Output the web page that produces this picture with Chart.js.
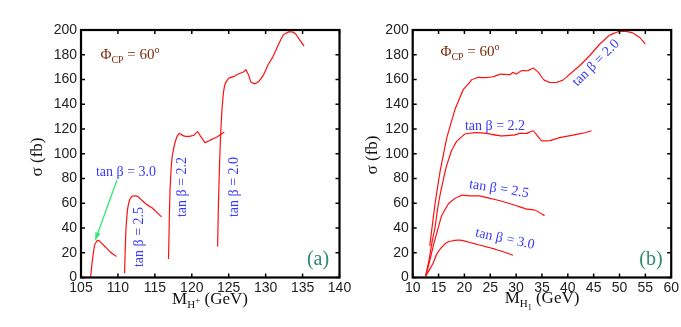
<!DOCTYPE html>
<html>
<head>
<meta charset="utf-8">
<script src="https://cdn.jsdelivr.net/npm/chart.js@4.4.0/dist/chart.umd.min.js"></script>
<style>
  body { margin: 0; background: #fff; }
  #wrap { position: relative; width: 681px; height: 327px; }
  canvas { position: absolute; left: 0; top: 0; }
</style>
</head>
<body>
<div id="wrap">
  <canvas id="chartA" width="681" height="327"></canvas>
  <canvas id="chartB" width="681" height="327"></canvas>
</div>
<script>
// panel (a): sigma vs M_H+ for several tan beta
const aTan30X = [106.3, 106.5, 106.7, 106.9, 107.2, 107.5, 107.9, 108.5, 109.1, 109.8];
const aTan30Y = [0, 12, 21, 27, 30, 29.5, 27, 23.5, 20, 17];
const aTan25X = [110.9, 111.0, 111.1, 111.3, 111.6, 111.9, 112.3, 112.7, 113.3, 114.0, 114.7, 115.2, 115.9];
const aTan25Y = [3.5, 25, 41, 55, 63, 65.5, 66, 65.5, 62, 58.5, 56, 53, 49];
const aTan22X = [116.85, 116.95, 117.05, 117.2, 117.35, 117.6, 118.0, 118.3, 118.9, 119.6, 120.3, 120.8, 121.2, 121.8, 122.5, 123.4, 124.4];
const aTan22Y = [15, 45, 70, 88, 98, 106, 114, 116.5, 114.5, 114, 115, 118, 114, 109, 111, 113.5, 117.5];
const aTan20X = [123.5, 123.6, 123.75, 123.9, 124.1, 124.3, 124.55, 125.0, 125.7, 126.3, 127.0, 127.3, 127.7, 128.0, 128.5, 129.0, 129.7, 130.3, 131.0, 131.8, 132.4, 133.1, 133.6, 134.1, 134.5, 135.2];
const aTan20Y = [25, 57, 90, 115, 137, 150, 157, 161, 162.5, 164.5, 166, 168, 163.5, 158, 156.5, 158, 163.5, 171.5, 178.5, 189, 196, 198.5, 198.5, 196.5, 193, 187];

// panel (b): sigma vs M_H1
const bTan30X = [12.5, 13.2, 14.0, 14.6, 15.5, 16.6, 17.5, 18.8, 19.5, 21.1, 22.7, 24.3, 25.6, 26.9, 28.1, 29.4];
const bTan30Y = [1, 6, 12, 18.5, 24, 28.3, 29.5, 30.2, 30, 28.3, 26.5, 24.8, 23.3, 21.6, 20, 18];
const bTan25X = [12.5, 13.3, 14.0, 14.6, 15.6, 16.9, 18.2, 19.5, 21.0, 23.0, 24.9, 26.9, 28.5, 30.1, 32.0, 33.6, 35.5];
const bTan25Y = [1, 13.5, 26, 35, 50, 59.5, 64, 66.5, 66, 66, 64, 62, 60, 58, 55.3, 54.5, 50];
const bTan22X = [12.5, 13.2, 13.8, 14.3, 14.8, 15.3, 16.4, 17.5, 18.5, 20.1, 22.0, 24.3, 26.9, 29.4, 30.7, 32.0, 33.3, 34.9, 36.5, 38.4, 41.0, 43.3, 44.6];
const bTan22Y = [1, 15, 30, 40, 55, 67, 88, 102.4, 110, 116, 117, 116.4, 114.5, 115, 116.4, 116.4, 118.6, 110.5, 110.5, 113, 115, 117, 118.6];
const bTan20X = [13.3, 14.3, 15.3, 16.6, 18.2, 19.8, 20.7, 21.4, 22.7, 24.0, 25.6, 26.9, 28.8, 29.4, 30.1, 31.0, 32.3, 33.3, 34.3, 35.4, 36.5, 37.8, 39.1, 40.4, 42.3, 44.2, 46.2, 48.1, 49.7, 51.3, 52.6, 53.9, 55.0];
const bTan20Y = [25.6, 59, 86, 113, 136, 152, 156, 159.8, 161.7, 161.5, 162.2, 164.4, 163.9, 165.7, 164.4, 167.1, 167.1, 169.3, 165.7, 159.6, 157.6, 157.6, 159.6, 164.4, 171.1, 179.2, 188.7, 195.9, 198.6, 198.9, 197.6, 194, 188.7];

const aXTicks = [105, 110, 115, 120, 125, 130, 135, 140];
const bXTicks = [10, 15, 20, 25, 30, 35, 40, 45, 50, 55, 60];
const yTicks = [0, 20, 40, 60, 80, 100, 120, 140, 160, 180, 200];

const SERIF = '"Liberation Serif", "DejaVu Serif", serif';
const SANS = '"Liberation Sans", Arial, sans-serif';
const RED = '#ff1010';
const BLUE = '#3838ff';
const BROWN = '#7e2a0c';
const TEAL = '#2f8a6c';

function pts(xs, ys) {
    return xs.map((x, i) => ({ x: x, y: ys[i] }));
}

function curve(xs, ys) {
    return { data: pts(xs, ys), borderColor: RED, borderWidth: 1.2, pointRadius: 0, tension: 0.05, fill: false };
}

// text with sub/superscripts: parts = [text, size, dy]
function drawParts(ctx, x, y, parts, color) {
    ctx.fillStyle = color;
    ctx.textAlign = 'left';
    ctx.textBaseline = 'alphabetic';
    let w = 0;
    parts.forEach(p => { ctx.font = p[1] + 'px ' + SERIF; w += ctx.measureText(p[0]).width; });
    let cx = x - w / 2;
    parts.forEach(p => {
        ctx.font = p[1] + 'px ' + SERIF;
        ctx.fillText(p[0], cx, y + p[2]);
        cx += ctx.measureText(p[0]).width;
    });
}

function rotText(ctx, txt, x, y, deg, size, color) {
    ctx.save();
    ctx.translate(x, y);
    ctx.rotate(deg * Math.PI / 180);
    ctx.font = size + 'px ' + SERIF;
    ctx.fillStyle = color;
    ctx.textAlign = 'center';
    ctx.textBaseline = 'middle';
    ctx.fillText(txt, 0, 0);
    ctx.restore();
}

function makeFrame(labels) {
    return {
        id: 'frame',
        afterDraw(chart) {
            const ctx = chart.ctx, a = chart.chartArea;
            const xs = chart.scales.x, ys = chart.scales.y;
            ctx.save();
            ctx.strokeStyle = '#000';
            ctx.lineWidth = 1.5;
            ctx.beginPath();
            xs.ticks.forEach(t => {
                const px = xs.getPixelForValue(t.value);
                ctx.moveTo(px, a.bottom); ctx.lineTo(px, a.bottom - 4);
                ctx.moveTo(px, a.top); ctx.lineTo(px, a.top + 4);
            });
            ys.ticks.forEach(t => {
                const py = ys.getPixelForValue(t.value);
                ctx.moveTo(a.left, py); ctx.lineTo(a.left + 4, py);
                ctx.moveTo(a.right, py); ctx.lineTo(a.right - 4, py);
            });
            ctx.stroke();
            ctx.lineWidth = 2.2;
            ctx.strokeRect(a.left, a.top, a.right - a.left, a.bottom - a.top);
            labels(ctx, chart);
            ctx.restore();
        }
    };
}

function makeOptions(xMin, xMax, xTicks, plotLeft, plotRight) {
    return {
        responsive: false,
        animation: false,
        layout: { padding: { left: 0, top: 30, right: 681 - plotRight, bottom: 0 } },
        plugins: { legend: { display: false }, tooltip: { enabled: false } },
        scales: {
            x: {
                type: 'linear', min: xMin, max: xMax,
                afterFit: s => { s.height = 49.5; },
                afterBuildTicks: s => { s.ticks = xTicks.map(v => ({ value: v })); },
                grid: { display: false, drawTicks: false },
                border: { display: false },
                ticks: { color: '#222', padding: 2, maxRotation: 0, autoSkip: false, font: { family: SANS, size: 14 } }
            },
            y: {
                type: 'linear', min: 0, max: 200,
                afterFit: s => { s.width = plotLeft; },
                afterBuildTicks: s => { s.ticks = yTicks.map(v => ({ value: v })); },
                grid: { display: false, drawTicks: false },
                border: { display: false },
                ticks: { color: '#222', padding: 4, autoSkip: false, font: { family: SANS, size: 14 } }
            }
        }
    };
}

const phiParts = [['\u03A6', 15, 0], ['CP', 10, 4], [' = 60', 15, 0], ['o', 10, -6]];

new Chart(document.getElementById('chartA'), {
    type: 'line',
    data: { datasets: [curve(aTan30X, aTan30Y), curve(aTan25X, aTan25Y), curve(aTan22X, aTan22Y), curve(aTan20X, aTan20Y)] },
    options: makeOptions(105, 140, aXTicks, 81, 339.5),
    plugins: [makeFrame((ctx, chart) => {
        rotText(ctx, '\u03C3 (fb)', 38, 157, -90, 17, '#111');
        drawParts(ctx, 210, 304, [['M', 17, 0], ['H', 11, 4], ['+', 9, -1], [' (GeV)', 17, 0]], '#111');
        drawParts(ctx, 130, 59, phiParts, BROWN);
        ctx.font = '14px ' + SERIF;
        ctx.fillStyle = BLUE;
        ctx.textAlign = 'center';
        ctx.fillText('tan \u03B2 = 3.0', 126, 176);
        rotText(ctx, 'tan \u03B2 = 2.5', 139, 237, -90, 14, BLUE);
        rotText(ctx, 'tan \u03B2 = 2.2', 182, 187, -90, 14, BLUE);
        rotText(ctx, 'tan \u03B2 = 2.0', 234, 187, -90, 14, BLUE);
        // green arrow
        ctx.strokeStyle = '#33e87a';
        ctx.fillStyle = '#33e87a';
        ctx.lineWidth = 1.3;
        ctx.beginPath(); ctx.moveTo(117, 180); ctx.lineTo(96, 238); ctx.stroke();
        const ang = Math.atan2(238 - 180, 96 - 117);
        ctx.beginPath();
        ctx.moveTo(95, 241);
        ctx.lineTo(95 - 9 * Math.cos(ang - 0.3), 241 - 9 * Math.sin(ang - 0.3));
        ctx.lineTo(95 - 9 * Math.cos(ang + 0.3), 241 - 9 * Math.sin(ang + 0.3));
        ctx.closePath(); ctx.fill();
        drawParts(ctx, 318, 265, [['(a)', 20, 0]], TEAL);
    })]
});

new Chart(document.getElementById('chartB'), {
    type: 'line',
    data: { datasets: [curve(bTan30X, bTan30Y), curve(bTan25X, bTan25Y), curve(bTan22X, bTan22Y), curve(bTan20X, bTan20Y)] },
    options: makeOptions(10, 60, bXTicks, 412.7, 671.7),
    plugins: [makeFrame((ctx, chart) => {
        rotText(ctx, '\u03C3 (fb)', 373, 155, -90, 17, '#111');
        drawParts(ctx, 542, 303, [['M', 17, 0], ['H', 11, 4], ['1', 8, 7], [' (GeV)', 17, 0]], '#111');
        drawParts(ctx, 470, 56, phiParts, BROWN);
        ctx.font = '14px ' + SERIF;
        ctx.fillStyle = BLUE;
        ctx.textAlign = 'center';
        ctx.fillText('tan \u03B2 = 2.2', 495, 130);
        rotText(ctx, 'tan \u03B2 = 2.5', 499, 189, 9, 14, BLUE);
        rotText(ctx, 'tan \u03B2 = 3.0', 505, 239, 12, 14, BLUE);
        rotText(ctx, 'tan \u03B2 = 2.0', 596, 63, -45, 14, BLUE);
        drawParts(ctx, 651, 265, [['(b)', 20, 0]], TEAL);
    })]
});
</script>
</body>
</html>
